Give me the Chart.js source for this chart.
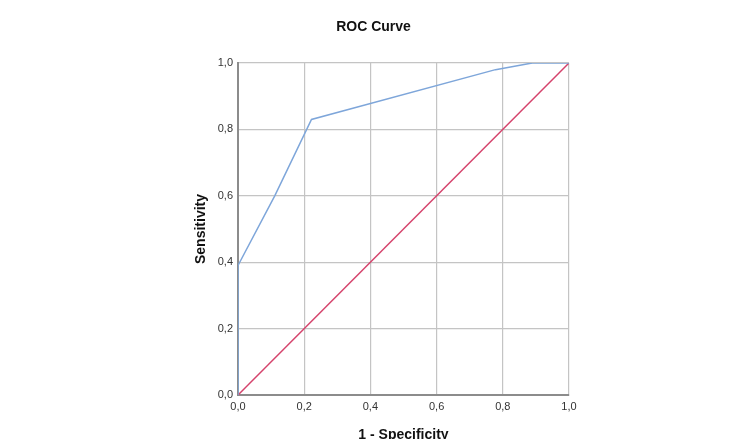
<!DOCTYPE html>
<html>
<head>
<meta charset="utf-8">
<title>ROC Curve</title>
<script src="https://cdn.jsdelivr.net/npm/chart.js@4"></script>
<style>
    html, body { margin: 0; padding: 0; background: #ffffff; overflow: hidden; }
    #wrap { width: 750px; height: 439px; }
</style>
</head>
<body>
<div id="wrap"><canvas id="rocChart" width="750" height="439"></canvas></div>
<script>
// ROC curve points (1 - specificity, sensitivity)
const fprValues = [0, 0, 0.111, 0.222, 0.778, 0.889, 1];
const tprValues = [0, 0.39, 0.60, 0.83, 0.98, 1, 1];

// chance diagonal
const diagonalX = [0, 1];
const diagonalY = [0, 1];

const axisMin = 0;
const axisMax = 1;
const tickStep = 0.2;

const fontFamily = '"Liberation Sans", Arial, sans-serif';

const toPoints = (xs, ys) => xs.map((x, i) => ({ x: x, y: ys[i] }));
const commaLabel = value => Number(value).toFixed(1).replace('.', ',');

const ctx = document.getElementById('rocChart').getContext('2d');

new Chart(ctx, {
    type: 'scatter',
    data: {
        datasets: [
            {
                label: 'ROC',
                data: toPoints(fprValues, tprValues),
                showLine: true,
                borderColor: '#7ea6da',
                borderWidth: 1.5,
                pointRadius: 0,
                tension: 0
            },
            {
                label: 'Reference Line',
                data: toPoints(diagonalX, diagonalY),
                showLine: true,
                borderColor: '#d5436c',
                borderWidth: 1.5,
                pointRadius: 0,
                tension: 0
            }
        ]
    },
    options: {
        responsive: false,
        animation: false,
        layout: {
            padding: { left: 178, right: 181, top: 0, bottom: 0 }
        },
        plugins: {
            legend: { display: false },
            tooltip: { enabled: false },
            title: {
                display: true,
                text: 'ROC Curve',
                color: '#111111',
                font: { family: fontFamily, size: 14, weight: 'bold' },
                padding: { top: 18.6, bottom: 27.6 }
            }
        },
        scales: {
            x: {
                type: 'linear',
                min: axisMin,
                max: axisMax,
                afterFit: scale => { scale.height = 44; },
                ticks: {
                    stepSize: tickStep,
                    padding: 5,
                    color: '#333333',
                    font: { family: fontFamily, size: 11 },
                    maxRotation: 0,
                    callback: commaLabel
                },
                grid: { color: '#c4c4c4', lineWidth: 1.2, drawTicks: false },
                border: { display: true, color: '#8c8c8c', width: 2 },
                title: {
                    display: true,
                    text: '1 - Specificity',
                    color: '#111111',
                    font: { family: fontFamily, size: 14, weight: 'bold' },
                    padding: { top: 0, bottom: -5 }
                }
            },
            y: {
                type: 'linear',
                min: axisMin,
                max: axisMax,
                afterFit: scale => { scale.width = 60; },
                ticks: {
                    stepSize: tickStep,
                    padding: 5,
                    color: '#333333',
                    font: { family: fontFamily, size: 11 },
                    callback: commaLabel
                },
                grid: { color: '#c4c4c4', lineWidth: 1.2, drawTicks: false },
                border: { display: true, color: '#8c8c8c', width: 2 },
                title: {
                    display: true,
                    text: 'Sensitivity',
                    color: '#111111',
                    font: { family: fontFamily, size: 14, weight: 'bold' },
                    padding: { top: 15, bottom: 0 }
                }
            }
        }
    }
});
</script>
</body>
</html>
